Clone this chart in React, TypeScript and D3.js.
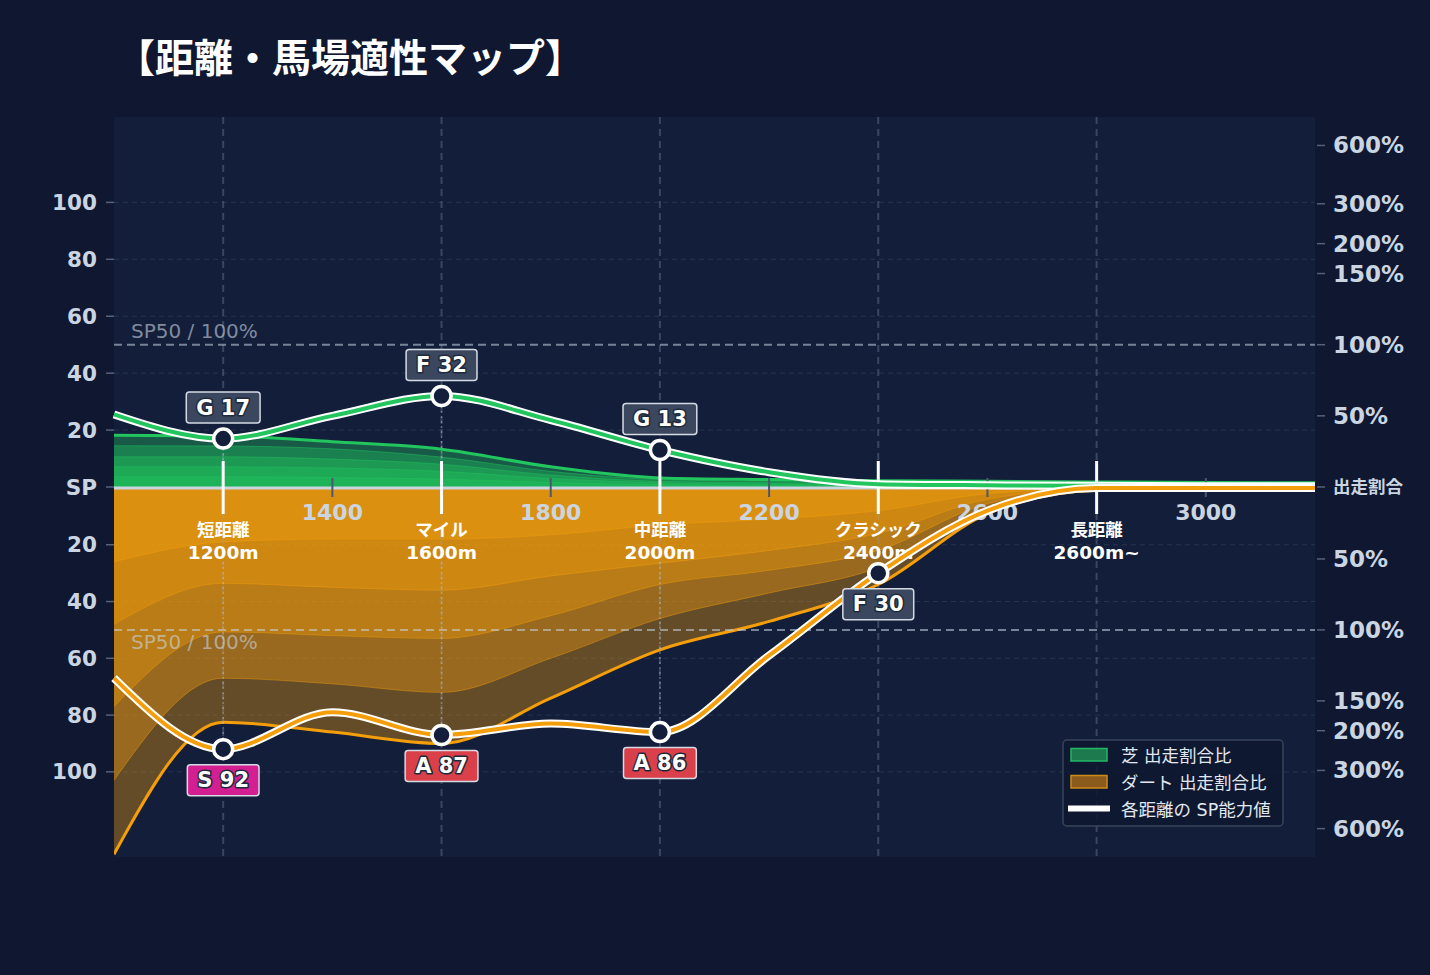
import * as d3 from 'd3';
import { useEffect, useRef } from 'react';

// sample distances (m)
const distances = [1000, 1200, 1400, 1600, 1800, 2000, 2200, 2400, 2600, 2800, 3000, 3200];

// SP ability along distance
const turfSP = [25.5, 17, 25, 32, 23.5, 13, 5.2, 1, 0.6, 0.4, 0.3, 0.3];
const dirtSP = [67, 92, 79, 87, 83, 86, 59, 30, 8, 0, 0, 0];

// run-share layers, in SP-equivalent units (outermost first)
const turfShare1 = [18.2, 17.9, 15.9, 13.3, 7.1, 3.2, 2.6, 2.2, 2.0, 1.8, 1.6, 1.5];
const turfShare2 = [14.5, 14.4, 13.4, 10.5, 5.5, 2.6, 2.0, 1.7, 1.5, 1.4, 1.3, 1.2];
const turfShare3 = [10.6, 10.6, 9.8, 8.0, 4.2, 2.0, 1.5, 1.3, 1.1, 1.0, 0.9, 0.9];
const turfShare4 = [7.1, 7.1, 6.7, 5.5, 3.0, 1.5, 1.1, 0.9, 0.8, 0.7, 0.6, 0.6];
const turfShare5 = [3.6, 3.6, 3.3, 2.8, 1.6, 0.8, 0.6, 0.5, 0.4, 0.4, 0.3, 0.3];

const dirtShare1 = [129, 82.5, 86, 90, 74, 57, 47, 34, 9, 0.8, 0.4, 0.3];
const dirtShare2 = [103, 67, 69, 72, 60, 46, 37, 28, 7, 0.6, 0.3, 0.2];
const dirtShare3 = [77, 50.7, 52, 53, 45, 34, 29, 22, 5.5, 0.5, 0.3, 0.2];
const dirtShare4 = [48, 33.6, 35, 36, 31, 26.5, 22, 16, 4, 0.4, 0.2, 0.2];
const dirtShare5 = [26, 19, 18, 18, 16.5, 13, 11, 8, 2, 0.3, 0.2, 0.1];

// distance categories
const categoryNames = ['短距離', 'マイル', '中距離', 'クラシック', '長距離'];
const categoryLabels = ['1200m', '1600m', '2000m', '2400m', '2600m~'];
const categoryPos = [1200, 1600, 2000, 2400, 2800];

const turfGrades = ['G', 'F', 'G', '', ''];
const turfGradeSP = [17, 32, 13, null, null];
const dirtGrades = ['S', 'A', 'A', 'F', ''];
const dirtGradeSP = [92, 87, 86, 30, null];

// axes
const xTicks = [1400, 1800, 2200, 2600, 3000];
const spTicks = [20, 40, 60, 80, 100];
const shareTickLabels = ['50%', '100%', '150%', '200%', '300%', '600%'];
const shareTickSP = [25, 50, 75, 85.5, 99.5, 120];

const W = 1430;
const H = 975;
const plot = { left: 114, right: 1315, top: 117, bottom: 857 };
const FONT = "'DejaVu Sans', 'Noto Sans CJK JP', sans-serif";
const gradeColor: Record<string, string> = { S: '#d31f92', A: '#d9404a', F: '#3a475e', G: '#3a475e' };

export default function App() {
  const svgRef = useRef<SVGSVGElement | null>(null);

  useEffect(() => {
    document.body.style.margin = '0';
    document.body.style.background = '#0f1830';

    const svg = d3.select(svgRef.current).attr('width', W).attr('height', H);
    svg.selectAll('*').remove();

    const x = d3.scaleLinear().domain([1000, 3200]).range([plot.left, plot.right]);
    const yUp = d3.scaleLinear().domain([0, 130]).range([487, plot.top]);
    const yDown = d3.scaleLinear().domain([0, 130]).range([488, plot.bottom]);

    // backgrounds
    svg.append('rect').attr('width', W).attr('height', H).attr('fill', '#0f1830');
    svg.append('rect')
      .attr('x', plot.left).attr('y', plot.top)
      .attr('width', plot.right - plot.left).attr('height', plot.bottom - plot.top)
      .attr('fill', '#131f3a');

    svg.append('defs').append('clipPath').attr('id', 'plot-clip')
      .append('rect')
      .attr('x', plot.left).attr('y', plot.top)
      .attr('width', plot.right - plot.left).attr('height', plot.bottom - plot.top);

    // horizontal grid
    const grid = svg.append('g');
    spTicks.forEach((v) => {
      [yUp(v), yDown(v)].forEach((yy) => {
        grid.append('line')
          .attr('x1', plot.left).attr('x2', plot.right).attr('y1', yy).attr('y2', yy)
          .attr('stroke', '#26344f').attr('stroke-width', 1).attr('stroke-dasharray', '5,4');
      });
    });

    // share areas
    const areas = svg.append('g').attr('clip-path', 'url(#plot-clip)');
    const px = (_: number, i: number) => x(distances[i]);

    const drawLayers = (layers: number[][], y: d3.ScaleLinear<number, number>, color: string, alpha: number) => {
      layers.forEach((vals, li) => {
        const area = d3.area<number>().x(px).y0(y(0)).y1((d) => y(d)).curve(d3.curveMonotoneX);
        const edge = d3.line<number>().x(px).y((d) => y(d)).curve(d3.curveMonotoneX);
        areas.append('path').attr('d', area(vals)).attr('fill', color).attr('fill-opacity', alpha);
        areas.append('path').attr('d', edge(vals)).attr('fill', 'none')
          .attr('stroke', color)
          .attr('stroke-opacity', li === 0 ? 1 : 0.45)
          .attr('stroke-width', li === 0 ? 3 : 1);
      });
    };
    drawLayers([dirtShare1, dirtShare2, dirtShare3, dirtShare4, dirtShare5], yDown, '#f59e0b', 0.36);
    drawLayers([turfShare1, turfShare2, turfShare3, turfShare4, turfShare5], yUp, '#22c55e', 0.36);

    // category vertical lines
    categoryPos.forEach((d) => {
      svg.append('line')
        .attr('x1', x(d)).attr('x2', x(d)).attr('y1', plot.top).attr('y2', plot.bottom)
        .attr('stroke', 'rgba(148,163,184,0.3)').attr('stroke-width', 2).attr('stroke-dasharray', '7,5');
    });

    // baseline
    svg.append('line')
      .attr('x1', plot.left).attr('x2', plot.right).attr('y1', 488).attr('y2', 488)
      .attr('stroke', '#cbd5e1').attr('stroke-width', 3);

    // SP50 reference lines
    [yUp(50), yDown(50)].forEach((yy, i) => {
      svg.append('line')
        .attr('x1', plot.left).attr('x2', plot.right).attr('y1', yy).attr('y2', yy)
        .attr('stroke', 'rgba(203,213,225,0.55)').attr('stroke-width', 2).attr('stroke-dasharray', '8,5');
      svg.append('text')
        .attr('x', 131).attr('y', i === 0 ? yy - 14 : yy + 12)
        .attr('dominant-baseline', 'central')
        .attr('font-family', FONT).attr('font-size', 20)
        .attr('fill', 'rgba(203,213,225,0.6)')
        .text('SP50 / 100%');
    });

    // x ticks
    xTicks.forEach((d) => {
      svg.append('line')
        .attr('x1', x(d)).attr('x2', x(d)).attr('y1', 478).attr('y2', 497)
        .attr('stroke', '#4b5870').attr('stroke-width', 2);
      svg.append('text')
        .attr('x', x(d)).attr('y', 512)
        .attr('text-anchor', 'middle').attr('dominant-baseline', 'central')
        .attr('font-family', FONT).attr('font-size', 22).attr('font-weight', 700)
        .attr('fill', '#cbd5e1')
        .text(d);
    });

    // category markers + labels
    categoryPos.forEach((d, i) => {
      svg.append('line')
        .attr('x1', x(d)).attr('x2', x(d)).attr('y1', 461).attr('y2', 514)
        .attr('stroke', '#ffffff').attr('stroke-width', 3);
      svg.append('text')
        .attr('x', x(d)).attr('y', 530)
        .attr('text-anchor', 'middle').attr('dominant-baseline', 'central')
        .attr('font-family', FONT).attr('font-size', 17.5).attr('font-weight', 700)
        .attr('fill', '#ffffff')
        .text(categoryNames[i]);
      svg.append('text')
        .attr('x', x(d)).attr('y', 552)
        .attr('text-anchor', 'middle').attr('dominant-baseline', 'central')
        .attr('font-family', FONT).attr('font-size', 18.5).attr('font-weight', 700)
        .attr('fill', '#ffffff')
        .text(categoryLabels[i]);
      // dotted connectors
      const t = turfGradeSP[i];
      const b = dirtGradeSP[i];
      if (t !== null) {
        svg.append('line')
          .attr('x1', x(d)).attr('x2', x(d)).attr('y1', yUp(t)).attr('y2', 461)
          .attr('stroke', 'rgba(203,213,225,0.45)').attr('stroke-width', 1.5).attr('stroke-dasharray', '2,3');
      }
      if (b !== null) {
        svg.append('line')
          .attr('x1', x(d)).attr('x2', x(d)).attr('y1', 562).attr('y2', yDown(b))
          .attr('stroke', 'rgba(203,213,225,0.4)').attr('stroke-width', 1.5).attr('stroke-dasharray', '2,3');
      }
    });

    // SP lines
    const spLine = (y: d3.ScaleLinear<number, number>) =>
      d3.line<number>().x(px).y((d) => y(d)).curve(d3.curveMonotoneX);
    [[turfSP, yUp, '#22c55e'], [dirtSP, yDown, '#f59e0b']].forEach(([vals, y, color]) => {
      const d = spLine(y as d3.ScaleLinear<number, number>)(vals as number[]);
      svg.append('path').attr('d', d).attr('fill', 'none').attr('stroke', '#ffffff').attr('stroke-width', 8);
      svg.append('path').attr('d', d).attr('fill', 'none').attr('stroke', color as string).attr('stroke-width', 4);
    });

    // points + grade labels
    const drawGrade = (cx: number, cy: number, grade: string, value: number, below: boolean) => {
      svg.append('circle')
        .attr('cx', cx).attr('cy', cy).attr('r', 9.5)
        .attr('fill', '#131f3a').attr('stroke', '#ffffff').attr('stroke-width', 3.5);
      const g = svg.append('g');
      const by = below ? cy + 31 : cy - 31;
      const rect = g.append('rect')
        .attr('fill', gradeColor[grade]).attr('stroke', '#d5dbe5').attr('stroke-width', 1.5).attr('rx', 3);
      const txt = g.append('text')
        .attr('x', cx).attr('y', by)
        .attr('text-anchor', 'middle').attr('dominant-baseline', 'central')
        .attr('font-family', FONT).attr('font-size', 21).attr('font-weight', 700)
        .attr('fill', '#ffffff').attr('stroke', '#1e293b').attr('stroke-width', 3)
        .attr('paint-order', 'stroke').attr('stroke-linejoin', 'round')
        .text(`${grade} ${value}`);
      const tw = (txt.node() as SVGTextElement).getComputedTextLength();
      const bw = tw + 20;
      rect.attr('x', cx - bw / 2).attr('y', by - 15.5).attr('width', bw).attr('height', 31);
    };
    categoryPos.forEach((d, i) => {
      const t = turfGradeSP[i];
      if (t !== null) drawGrade(x(d), yUp(t), turfGrades[i], t, false);
      const b = dirtGradeSP[i];
      if (b !== null) drawGrade(x(d), yDown(b), dirtGrades[i], b, true);
    });

    // left axis
    const left = svg.append('g');
    const leftLabel = (yy: number, label: string) => {
      left.append('line').attr('x1', 106).attr('x2', 114).attr('y1', yy).attr('y2', yy)
        .attr('stroke', '#55627a').attr('stroke-width', 1.5);
      left.append('text')
        .attr('x', 97).attr('y', yy)
        .attr('text-anchor', 'end').attr('dominant-baseline', 'central')
        .attr('font-family', FONT).attr('font-size', 21.5).attr('font-weight', 700)
        .attr('fill', '#cbd5e1')
        .text(label);
    };
    spTicks.forEach((v) => {
      leftLabel(yUp(v), String(v));
      leftLabel(yDown(v), String(v));
    });
    leftLabel(487, 'SP');

    // right axis
    const right = svg.append('g');
    const rightLabel = (yy: number, label: string, size: number) => {
      right.append('line').attr('x1', 1317).attr('x2', 1325).attr('y1', yy).attr('y2', yy)
        .attr('stroke', '#55627a').attr('stroke-width', 1.5);
      right.append('text')
        .attr('x', 1333).attr('y', yy)
        .attr('dominant-baseline', 'central')
        .attr('font-family', FONT).attr('font-size', size).attr('font-weight', 700)
        .attr('fill', '#cbd5e1')
        .text(label);
    };
    shareTickSP.forEach((v, i) => {
      rightLabel(yUp(v), shareTickLabels[i], 23);
      rightLabel(yDown(v), shareTickLabels[i], 23);
    });
    rightLabel(487, '出走割合', 17.5);

    // legend
    const lg = svg.append('g');
    lg.append('rect')
      .attr('x', 1063).attr('y', 740).attr('width', 220).attr('height', 86).attr('rx', 4)
      .attr('fill', '#0f1830').attr('fill-opacity', 0.85)
      .attr('stroke', '#38445a').attr('stroke-width', 1.5);
    lg.append('rect').attr('x', 1071).attr('y', 748.5).attr('width', 36).attr('height', 12.5)
      .attr('fill', '#1d7a4e').attr('stroke', '#22b865').attr('stroke-width', 1.5);
    lg.append('rect').attr('x', 1071).attr('y', 775.5).attr('width', 36).attr('height', 12.5)
      .attr('fill', '#8a5b1c').attr('stroke', '#d08a16').attr('stroke-width', 1.5);
    lg.append('line').attr('x1', 1068).attr('x2', 1110).attr('y1', 808.5).attr('y2', 808.5)
      .attr('stroke', '#ffffff').attr('stroke-width', 6);
    ['芝 出走割合比', 'ダート 出走割合比', '各距離の SP能力値'].forEach((t, i) => {
      lg.append('text')
        .attr('x', 1121).attr('y', 755.5 + i * 27)
        .attr('dominant-baseline', 'central')
        .attr('font-family', FONT).attr('font-size', 17.5)
        .attr('fill', '#e2e8f0')
        .text(t);
    });

    // title
    svg.append('text')
      .attr('x', 116).attr('y', 55)
      .attr('dominant-baseline', 'central')
      .attr('font-family', "'Noto Sans CJK JP', sans-serif").attr('font-size', 39).attr('font-weight', 700)
      .attr('fill', '#ffffff')
      .text('【距離・馬場適性マップ】');
  }, []);

  return <svg ref={svgRef} style={{ display: 'block' }}></svg>;
}
